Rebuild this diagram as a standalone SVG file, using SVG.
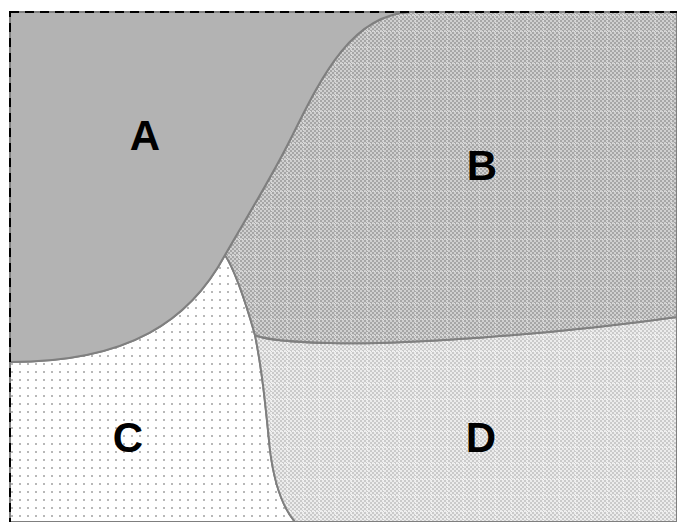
<svg xmlns="http://www.w3.org/2000/svg" width="677" height="522" viewBox="0 0 677 522">
<style>
.region{stroke:#7f7f7f;stroke-width:2}
.lbl{font-family:"Liberation Sans",Arial,sans-serif;font-weight:bold;font-size:42px;fill:#000;text-anchor:middle}
</style>
<defs>
<pattern id="pB" width="16" height="16" patternUnits="userSpaceOnUse">
<rect width="16" height="16" fill="#d0d0d0"/>
<path d="M0 0h2v2h-2zM4 0h2v2h-2zM8 0h2v2h-2zM12 0h2v2h-2zM2 2h2v2h-2zM6 2h2v2h-2zM10 2h2v2h-2zM14 2h2v2h-2z" fill="#a6a6a6"/>
<path d="M0 4h2v2h-2zM4 4h2v2h-2zM8 4h2v2h-2zM12 4h2v2h-2zM2 6h2v2h-2zM6 6h2v2h-2zM10 6h2v2h-2zM14 6h2v2h-2z" fill="#a6a6a6"/>
<path d="M0 8h2v2h-2zM4 8h2v2h-2zM8 8h2v2h-2zM12 8h2v2h-2zM2 10h2v2h-2zM6 10h2v2h-2zM10 10h2v2h-2zM14 10h2v2h-2z" fill="#a6a6a6"/>
<path d="M0 12h2v2h-2zM4 12h2v2h-2zM8 12h2v2h-2zM12 12h2v2h-2zM2 14h2v2h-2zM6 14h2v2h-2zM10 14h2v2h-2zM14 14h2v2h-2z" fill="#a6a6a6"/>
<path d="M0 15.5h16M15.5 0v16" stroke="#dadada" stroke-width="1" stroke-dasharray="1,1"/>
</pattern>
<pattern id="pD" width="16" height="16" patternUnits="userSpaceOnUse">
<rect width="16" height="16" fill="#ececec"/>
<path d="M0 0h2v2h-2zM4 0h2v2h-2zM8 0h2v2h-2zM12 0h2v2h-2zM2 2h2v2h-2zM6 2h2v2h-2zM10 2h2v2h-2zM14 2h2v2h-2z" fill="#cacaca"/>
<path d="M0 4h2v2h-2zM4 4h2v2h-2zM8 4h2v2h-2zM12 4h2v2h-2zM2 6h2v2h-2zM6 6h2v2h-2zM10 6h2v2h-2zM14 6h2v2h-2z" fill="#cacaca"/>
<path d="M0 8h2v2h-2zM4 8h2v2h-2zM8 8h2v2h-2zM12 8h2v2h-2zM2 10h2v2h-2zM6 10h2v2h-2zM10 10h2v2h-2zM14 10h2v2h-2z" fill="#cacaca"/>
<path d="M0 12h2v2h-2zM4 12h2v2h-2zM8 12h2v2h-2zM12 12h2v2h-2zM2 14h2v2h-2zM6 14h2v2h-2zM10 14h2v2h-2zM14 14h2v2h-2z" fill="#cacaca"/>
<path d="M0 15.5h16M15.5 0v16" stroke="#f2f2f2" stroke-width="1" stroke-dasharray="1,1"/>
</pattern>
<pattern id="pC" width="8" height="8" patternUnits="userSpaceOnUse">
<rect width="8" height="8" fill="#ffffff"/>
<rect x="3" y="3" width="2" height="2" fill="#b8b8b8"/>
</pattern>
</defs>
<g id="C"><path class="region" fill="url(#pC)" d="M10 362 C130 362 190 320 225 255 C235 270 245 300 255 335 C262 370 265 400 270 450 C275 490 285 510 295 522 L10 522 Z"/></g>
<g id="D"><path class="region" fill="url(#pD)" d="M255 335 C265 340 290 342 330 343 C400 345 550 335 677 317 L677 522 L295 522 C285 510 275 490 270 450 C265 400 262 370 255 335 Z"/></g>
<g id="B"><path class="region" fill="url(#pB)" d="M410 12 L677 12 L677 317 C550 335 400 345 330 343 C290 342 265 340 255 335 C245 300 235 270 225 255 C245 220 270 180 290 140 C320 80 350 15 410 12 Z"/></g>
<g id="A"><path class="region" fill="#b3b3b3" d="M10 12 L410 12 C350 15 320 80 290 140 C270 180 245 220 225 255 C190 320 130 362 10 362 Z"/></g>
<rect x="10" y="12" width="700" height="540" fill="none" stroke="#000" stroke-width="2" stroke-dasharray="9,6"/>
<text class="lbl" x="145" y="150">A</text>
<text class="lbl" x="482" y="180">B</text>
<text class="lbl" x="128" y="452">C</text>
<text class="lbl" x="481" y="452">D</text>
</svg>
